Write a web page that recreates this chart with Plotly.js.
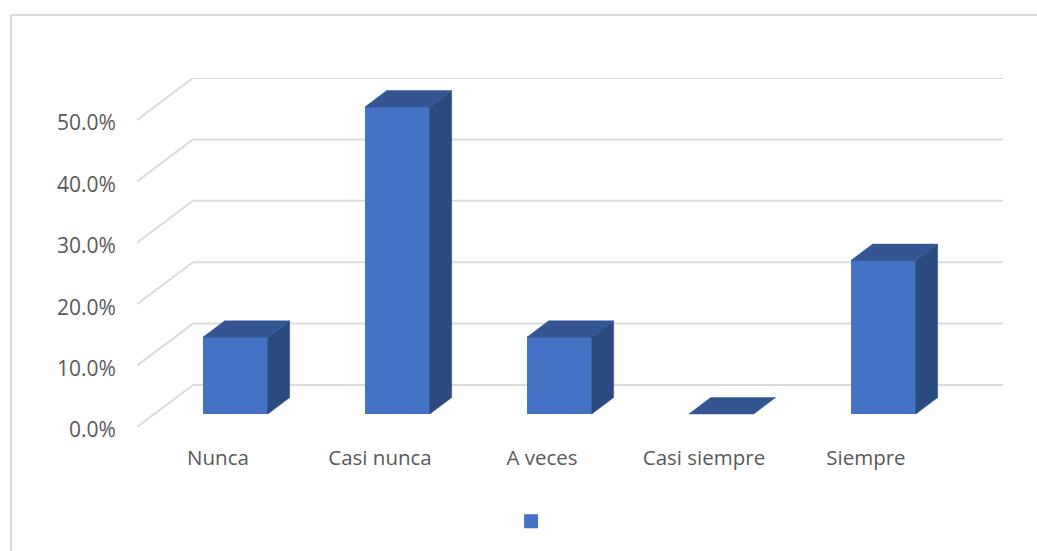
<!DOCTYPE html>
<html>
<head>
<meta charset="utf-8">
<script src="https://cdn.plot.ly/plotly-3.0.1.min.js"></script>
<style>html,body{margin:0;padding:0;background:#fff}#chart{width:1037px;height:551px}</style>
</head>
<body>
<div id="chart"></div>
<script>
var categories = ["Nunca", "Casi nunca", "A veces", "Casi siempre", "Siempre"];
var percentages = [12.5, 50, 12.5, 0, 25];
var yTicks = [0, 10, 20, 30, 40, 50];
var yTickLabels = ["0.0%", "10.0%", "20.0%", "30.0%", "40.0%", "50.0%"];

var FRONT = "#4472C4", TOP = "#335693", SIDE = "#2A4A80", GRID = "#DCDCDC";
// Oblique projection, expressed in axis units: one full step of depth moves
// a point this far along the category axis and this far up the value axis.
var depthX = 0.3457, depthY = 6.84;
var barNear = 0.31, barFar = 0.70, barWidth = 0.401;

function polygon(xs, ys, color) {
  return {type: "scatter", mode: "lines", x: xs.concat(xs[0]), y: ys.concat(ys[0]),
    fill: "toself", fillcolor: color, line: {color: color, width: 0.5},
    showlegend: false, hoverinfo: "skip"};
}

var traces = [];
var nearX = barNear * depthX, nearY = barNear * depthY;
var farX = barFar * depthX, farY = barFar * depthY;

traces.push({
  type: "bar", x: categories.map(function (c, i) { return i + nearX; }),
  y: percentages, base: percentages.map(function () { return nearY; }),
  width: barWidth, marker: {color: FRONT, line: {width: 0}},
  showlegend: false, hoverinfo: "skip"
});

percentages.forEach(function (v, i) {
  var l = i + nearX - barWidth / 2, r = i + nearX + barWidth / 2;
  var dx = farX - nearX, dy = farY - nearY;
  if (v > 0) {
    traces.push(polygon([r, r + dx, r + dx, r],
      [nearY, nearY + dy, nearY + dy + v, nearY + v], SIDE));
  }
  traces.push(polygon([l, r, r + dx, l + dx],
    [nearY + v, nearY + v, nearY + dy + v, nearY + dy + v], TOP));
});

traces.push({
  type: "scatter", mode: "markers", x: [0], y: [-50], name: " ",
  marker: {symbol: "square", size: 14, color: FRONT}, showlegend: true, hoverinfo: "skip"
});

var xStart = -0.5, xEnd = 4.846;
var shapes = [];
yTicks.forEach(function (t) {
  shapes.push({type: "line", layer: "below", xref: "x", yref: "y",
    x0: xStart, y0: t, x1: xStart + depthX, y1: t + depthY, line: {color: GRID, width: 2}});
  shapes.push({type: "line", layer: "below", xref: "x", yref: "y",
    x0: xStart + depthX, y0: t + depthY, x1: xEnd, y1: t + depthY, line: {color: GRID, width: 2}});
});
shapes.push({type: "rect", layer: "below", xref: "paper", yref: "paper",
  x0: -126 / 866, x1: 1000 / 866, y0: -200 / 349, y1: 412 / 349,
  line: {color: GRID, width: 2}, fillcolor: "rgba(0,0,0,0)"});

var xFont = {family: "Open Sans, Noto Sans, sans-serif", size: 20.5, color: "#595959"};
var yFont = {family: "Open Sans, Noto Sans, sans-serif", size: 21, color: "#595959"};

var layout = {
  width: 1037, height: 551,
  margin: {l: 137, r: 34, t: 78, b: 124, pad: 0},
  paper_bgcolor: "#fff", plot_bgcolor: "rgba(0,0,0,0)",
  showlegend: true,
  legend: {x: 0.432, y: -0.2715, xanchor: "left", yanchor: "middle", font: {size: 14, color: "#595959"},
    itemsizing: "trace", bgcolor: "rgba(0,0,0,0)"},
  bargap: 0,
  xaxis: {range: [xStart, xEnd], tickmode: "array", tickvals: categories.map(function (c, i) { return i; }),
    ticktext: categories, showgrid: false, zeroline: false, showline: false,
    ticks: "outside", ticklen: 12, tickcolor: "rgba(0,0,0,0)", tickfont: xFont, fixedrange: true},
  yaxis: {range: [0, 56.84], tickmode: "array", tickvals: yTicks, ticktext: yTickLabels,
    showgrid: false, zeroline: false, showline: false, ticklabelshift: 3,
    ticks: "outside", ticklen: 16, tickcolor: "rgba(0,0,0,0)", tickfont: yFont, fixedrange: true},
  shapes: shapes
};

Plotly.newPlot("chart", traces, layout, {displayModeBar: false, staticPlot: true});
</script>
</body>
</html>
